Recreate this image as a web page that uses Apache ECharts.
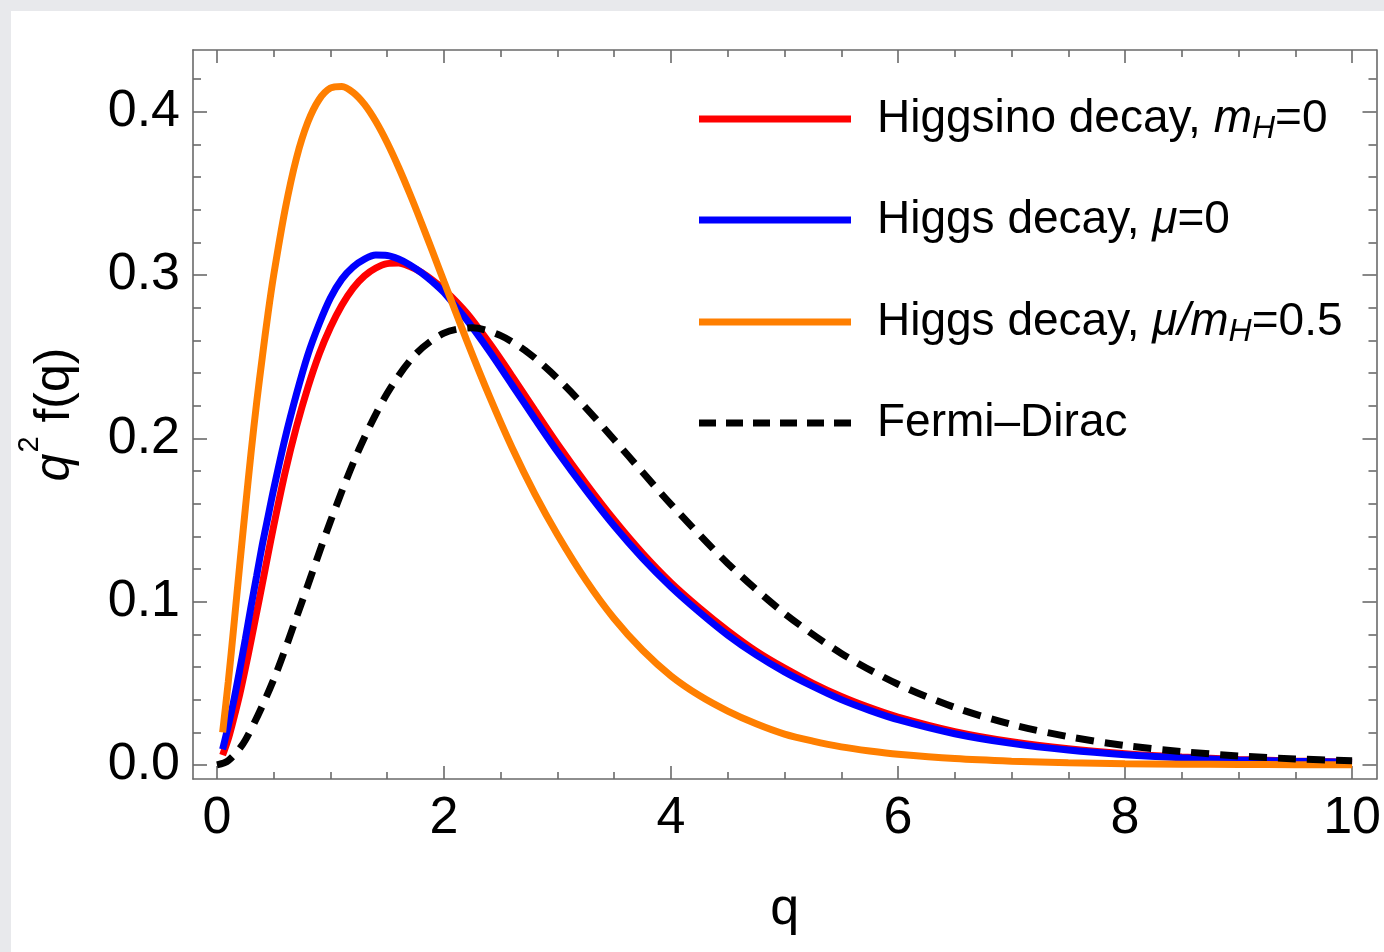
<!DOCTYPE html>
<html><head><meta charset="utf-8">
<script src="https://cdn.jsdelivr.net/npm/echarts@6/dist/echarts.min.js"></script>
<style>
html,body{margin:0;padding:0;width:1384px;height:952px;overflow:hidden;background:#e8e9ec;}
#card{position:absolute;left:11px;top:11px;right:0;bottom:0;background:#ffffff;}
#chart{position:absolute;left:0;top:0;width:1384px;height:952px;}
</style></head><body>
<div id="card"></div><div id="chart"></div>
<script>
// ---- data ----
const qDecay = [0.05,0.1,0.15,0.2,0.25,0.3,0.35,0.4,0.45,0.5,0.6,0.7,0.8,0.9,1.0,1.1,1.2,1.3,1.4,1.5,1.6,1.7,1.8,1.9,2.0,2.2,2.4,2.6,2.8,3.0,3.25,3.5,3.75,4.0,4.25,4.5,4.75,5.0,5.25,5.5,5.75,6.0,6.5,7.0,7.5,8.0,8.5,9.0,9.5,10.0];
const higgsinoMH0 = [0.006,0.016,0.029,0.043,0.059,0.076,0.0935,0.111,0.129,0.1465,0.179,0.207,0.231,0.2515,0.268,0.2815,0.292,0.2995,0.3043,0.307,0.3073,0.3052,0.3017,0.2968,0.2912,0.2768,0.2583,0.2381,0.2172,0.1966,0.1725,0.150,0.1296,0.1116,0.0962,0.0822,0.0697,0.0593,0.0500,0.0419,0.0351,0.0293,0.0204,0.0142,0.0099,0.0069,0.0048,0.0034,0.0024,0.0017];
const higgsMu0 = [0.0095,0.024,0.040,0.058,0.077,0.097,0.116,0.135,0.152,0.169,0.200,0.227,0.251,0.270,0.286,0.2975,0.305,0.3098,0.3122,0.312,0.3098,0.3062,0.3015,0.2958,0.2893,0.2725,0.2533,0.2327,0.212,0.1918,0.1683,0.1463,0.1265,0.109,0.0936,0.0795,0.0674,0.057,0.0481,0.040,0.0334,0.0277,0.0191,0.0132,0.0091,0.0063,0.0044,0.0031,0.0022,0.0016];
const higgsMuMH05 = [0.020,0.051,0.086,0.122,0.157,0.191,0.222,0.250,0.2765,0.300,0.340,0.3715,0.3935,0.4075,0.4145,0.4155,0.4118,0.4045,0.394,0.381,0.366,0.3496,0.3322,0.3142,0.296,0.260,0.2258,0.1942,0.166,0.141,0.1132,0.0895,0.0702,0.0545,0.0425,0.033,0.0252,0.0189,0.0146,0.0111,0.0086,0.0066,0.0039,0.0023,0.0013,0.0008,0.0005,0.0003,0.0002,0.0001];
const qFD = [0,0.1,0.25,0.5,0.75,1.0,1.25,1.5,1.75,2.0,2.25,2.5,2.75,3.0,3.25,3.5,3.75,4.0,4.5,5.0,5.5,6.0,6.5,7.0,7.5,8.0,8.5,9.0,9.5,10.0];
const fermiDirac = [0,0.0026,0.0152,0.0524,0.1001,0.1492,0.1930,0.2276,0.2515,0.2644,0.2677,0.2629,0.2520,0.2367,0.2187,0.1991,0.1792,0.1596,0.1234,0.0928,0.0683,0.0494,0.0352,0.0248,0.0173,0.0119,0.0082,0.0055,0.0037,0.0025];
const seriesNames = ['Higgsino decay, mH=0','Higgs decay, μ=0','Higgs decay, μ/mH=0.5','Fermi–Dirac'];
const xTicks = [0,2,4,6,8,10];
const xMinorTicks = [0.5,1,1.5,2.5,3,3.5,4.5,5,5.5,6.5,7,7.5,8.5,9,9.5];
const yTicks = [0,0.1,0.2,0.3,0.4];
const yMinorTicks = [0.02,0.04,0.06,0.08,0.12,0.14,0.16,0.18,0.22,0.24,0.26,0.28,0.32,0.34,0.36,0.38,0.42];

// ---- styling / layout ----
const FONT = "'Liberation Sans', Arial, Helvetica, sans-serif";
const frameColor = '#6a6a6a';
const colors = ['#ff0000','#0000ff','#ff7f00','#000000'];
const LW = 7;
const xr = {min:-0.211, max:10.215};
const yr = {min:-0.0086, max:0.4378};

function xAxisDef(pos, ticks, len, showLine, showLabel, extra){
  return Object.assign({
    type:'value', position:pos, min:xr.min, max:xr.max, gridIndex:0,
    axisLine:{show:showLine, onZero:false, lineStyle:{color:frameColor, width:1.6}},
    axisTick:{show:true, inside:true, length:len, customValues:ticks, lineStyle:{color:frameColor, width:1.6}},
    axisLabel:{show:showLabel, customValues:ticks, margin:14, color:'#000', fontSize:52, fontFamily:FONT, formatter:v=>String(v)},
    splitLine:{show:false}
  }, extra||{});
}
function yAxisDef(pos, ticks, len, showLine, showLabel, extra){
  return Object.assign({
    type:'value', position:pos, min:yr.min, max:yr.max, gridIndex:0,
    axisLine:{show:showLine, onZero:false, lineStyle:{color:frameColor, width:1.6}},
    axisTick:{show:true, inside:true, length:len, customValues:ticks, lineStyle:{color:frameColor, width:1.6}},
    axisLabel:{show:showLabel, customValues:ticks, margin:13, color:'#000', fontSize:52, fontFamily:FONT, formatter:v=>v.toFixed(1)},
    splitLine:{show:false}
  }, extra||{});
}

const LF = 46, LSUB = 32;
const legendRich = {
  r0:{fontSize:LF, lineHeight:52, fontFamily:FONT, color:'#000', padding:[0,0,0,21]},
  r:{fontSize:LF, lineHeight:52, fontFamily:FONT, color:'#000'},
  i:{fontSize:LF, lineHeight:52, fontFamily:FONT, color:'#000', fontStyle:'italic'},
  sub:{fontSize:LSUB, lineHeight:LSUB, fontFamily:FONT, color:'#000', fontStyle:'italic', verticalAlign:'bottom'}
};
const legendLabels = [
  '{r0|Higgsino decay, }{i|m}{sub|H}{r|=0}',
  '{r0|Higgs decay, }{i|μ}{r|=0}',
  '{r0|Higgs decay, }{i|μ/m}{sub|H}{r|=0.5}',
  '{r0|Fermi–Dirac}'
];
const legendRowY = [117, 218, 320, 421];
const dashIcon = 'path://M0,0h17v7h-17z M27,0h17v7h-17z M54,0h17v7h-17z M81,0h17v7h-17z M108,0h17v7h-17z M135,0h17v7h-17z';
const legendIcons = ['rect','rect','rect',dashIcon];

const dataSets = [higgsinoMH0, higgsMu0, higgsMuMH05];
const series = dataSets.map((vals,k)=>({
  name:seriesNames[k], type:'line', xAxisIndex:0, yAxisIndex:0,
  data:qDecay.map((q,i)=>[q, vals[i]]),
  symbol:'none', showSymbol:false, smooth:0.3,
  lineStyle:{width:LW, color:colors[k], cap:'butt'}, itemStyle:{color:colors[k]},
  emphasis:{disabled:true}, z:2+k
}));
series.push({
  name:seriesNames[3], type:'line', xAxisIndex:0, yAxisIndex:0,
  data:qFD.map((q,i)=>[q, fermiDirac[i]]),
  symbol:'none', showSymbol:false, smooth:0.3,
  lineStyle:{width:LW, color:'#000', type:[18,11], cap:'butt'}, itemStyle:{color:'#000'},
  emphasis:{disabled:true}, z:6
});

const chart = echarts.init(document.getElementById('chart'), null, {renderer:'canvas'});
chart.setOption({
  animation:false,
  backgroundColor:'transparent',
  grid:{left:193, top:50, width:1184, height:729, containLabel:false},
  xAxis:[
    xAxisDef('bottom', xTicks, 13, true, true, {name:'q', nameLocation:'middle', nameGap:105,
      nameTextStyle:{fontSize:52, fontFamily:FONT, color:'#000'}}),
    xAxisDef('bottom', xMinorTicks, 7, false, false),
    xAxisDef('top', xTicks, 13, true, false),
    xAxisDef('top', xMinorTicks, 7, false, false)
  ],
  yAxis:[
    yAxisDef('left', yTicks, 14, true, true, {name:'{i|q}{s|2}{r| f(q)}', nameLocation:'middle', nameGap:98,
      nameTextStyle:{fontSize:50, fontFamily:FONT, color:'#000', rich:{
        i:{fontSize:50, lineHeight:80, fontStyle:'italic', fontFamily:FONT, color:'#000'},
        r:{fontSize:50, lineHeight:80, fontFamily:FONT, color:'#000'},
        s:{fontSize:29, lineHeight:31, fontFamily:FONT, color:'#000', verticalAlign:'top', padding:[0,0,0,1]}
      }}}),
    yAxisDef('left', yMinorTicks, 8, false, false),
    yAxisDef('right', yTicks, 14, true, false),
    yAxisDef('right', yMinorTicks, 8, false, false)
  ],
  legend: seriesNames.map((n,k)=>({
    data:[{name:n, icon:legendIcons[k]}], orient:'vertical', left:694, top:legendRowY[k]-26,
    itemWidth:152, itemHeight:7, itemGap:0, selectedMode:false,
    formatter:()=>legendLabels[k],
    textStyle:{fontSize:LF, fontFamily:FONT, color:'#000', rich:legendRich}
  })),
  series:series
});
</script>
</body></html>
